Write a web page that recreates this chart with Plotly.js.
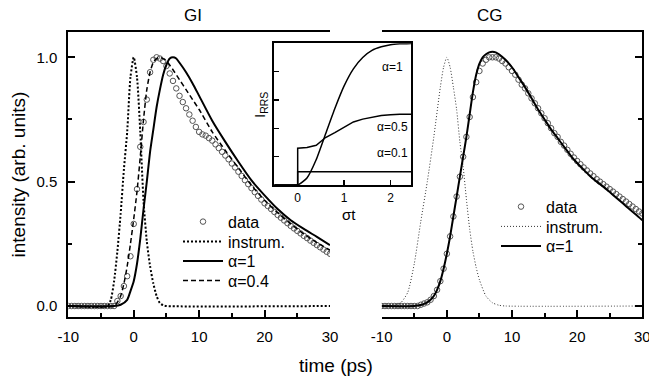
<!DOCTYPE html>
<html>
<head>
<meta charset="utf-8">
<script src="https://cdn.plot.ly/plotly-3.0.1.min.js"></script>
<style>html,body{margin:0;padding:0;background:#fff;}#chart{width:649px;height:379px;}</style>
</head>
<body>
<div id="chart"></div>
<script>
// ---------- GI panel (left) ----------
const tInstGI = [-10,-4,-3.5,-3,-2.5,-2,-1.5,-1,-0.5,0,0.5,1,1.5,2,2.5,3,3.5,4,4.5,5,30];
const instGI  = [0,0,0.025,0.1,0.22,0.37,0.55,0.7,0.92,1.0,0.92,0.7,0.42,0.26,0.16,0.09,0.04,0.012,0.003,0,0];

const tFitGI1 = [-10,-3,-2,-1,-0.5,0,0.5,1,1.5,2,2.5,3,3.5,4,4.5,5,5.5,6,6.5,7,8,9,10,12,14,16,18,20,22,24,26,28,30];
const fitGI1  = [0,0,0.005,0.025,0.06,0.1,0.17,0.27,0.39,0.5,0.62,0.71,0.8,0.87,0.93,0.97,0.995,1.0,0.995,0.978,0.94,0.895,0.845,0.745,0.66,0.58,0.505,0.445,0.39,0.345,0.31,0.278,0.245];

const tFitGI04 = [-10,-3,-2.5,-2,-1.5,-1,-0.5,0,0.5,1,1.5,2,2.5,3,3.5,4,5,6,7,8,9,10,12,14,16,18,20,22,24,26,28,30];
const fitGI04  = [0,0,0.015,0.04,0.09,0.16,0.25,0.35,0.46,0.6,0.75,0.87,0.94,0.98,0.995,1.0,0.985,0.95,0.91,0.87,0.83,0.79,0.70,0.625,0.555,0.485,0.425,0.375,0.33,0.29,0.255,0.225];

const tDataGI = [-10,-9.5,-9,-8.5,-8,-7.5,-7,-6.5,-6,-5.5,-5,-4.5,-4,-3.5,-3,-2.5,-2,-1.5,-1,-0.5,0,0.5,1,1.5,2,2.5,3,3.5,4,4.5,5,5.5,6,6.5,7,7.5,8,8.5,9,9.5,10,10.5,11,11.5,12,12.5,13,13.5,14,14.5,15,15.5,16,16.5,17,17.5,18,18.5,19,19.5,20,20.5,21,21.5,22,22.5,23,23.5,24,24.5,25,25.5,26,26.5,27,27.5,28,28.5,29,29.5,30];
const dataGI  = [0,0,0,0,0,0,0,0,0,0,0,0,0,0,0,0.02,0.04,0.08,0.12,0.2,0.33,0.47,0.64,0.74,0.83,0.94,0.99,1.0,0.995,0.985,0.965,0.935,0.905,0.875,0.845,0.82,0.795,0.77,0.745,0.72,0.70,0.69,0.685,0.675,0.665,0.65,0.635,0.62,0.605,0.59,0.573,0.557,0.54,0.523,0.506,0.49,0.474,0.458,0.443,0.428,0.413,0.402,0.39,0.378,0.366,0.355,0.344,0.333,0.322,0.312,0.302,0.292,0.282,0.273,0.263,0.254,0.245,0.236,0.227,0.218,0.21];

// ---------- CG panel (right) ----------
const tInstCG = [-10,-8,-7,-6,-5,-4,-3,-2,-1,-0.5,0,0.5,1,1.5,2,2.5,3,3.5,4,4.5,5,6,7,8,9,30];
const instCG  = [0,0.003,0.015,0.055,0.17,0.34,0.5,0.68,0.88,0.96,1.0,0.96,0.88,0.79,0.66,0.56,0.43,0.31,0.22,0.155,0.105,0.04,0.013,0.003,0,0];

const tFitCG1 = [-10,-5,-4,-3,-2.5,-2,-1.5,-1,-0.5,0,0.5,1,1.5,2,2.5,3,3.5,4,4.5,5,5.5,6,6.5,7,7.5,8,9,10,11,12,13,14,15,16,17,18,19,20,21,22,23,24,25,26,27,28,29,30];
const fitCG1  = [0,0,0.004,0.015,0.025,0.04,0.065,0.1,0.15,0.21,0.28,0.36,0.44,0.52,0.6,0.68,0.77,0.86,0.93,0.975,1.0,1.012,1.02,1.022,1.02,1.012,0.99,0.96,0.92,0.88,0.835,0.79,0.75,0.71,0.675,0.64,0.605,0.575,0.548,0.522,0.5,0.48,0.458,0.435,0.413,0.39,0.368,0.345];

const tDataCG = [-10,-9.5,-9,-8.5,-8,-7.5,-7,-6.5,-6,-5.5,-5,-4.5,-4,-3.5,-3,-2.5,-2,-1.5,-1,-0.5,0,0.5,1,1.5,2,2.5,3,3.5,4,4.5,5,5.5,6,6.5,7,7.5,8,8.5,9,9.5,10,10.5,11,11.5,12,12.5,13,13.5,14,14.5,15,15.5,16,16.5,17,17.5,18,18.5,19,19.5,20,20.5,21,21.5,22,22.5,23,23.5,24,24.5,25,25.5,26,26.5,27,27.5,28,28.5,29,29.5,30];
const dataCG  = [0,0,0,0,0,0,0,0,0,0,0,0,0.005,0.01,0.015,0.025,0.04,0.065,0.1,0.15,0.21,0.28,0.36,0.44,0.52,0.6,0.68,0.76,0.84,0.9,0.945,0.975,0.99,1.0,1.0,1.0,0.995,0.985,0.975,0.96,0.945,0.93,0.91,0.89,0.875,0.855,0.835,0.815,0.795,0.775,0.755,0.735,0.715,0.695,0.68,0.66,0.645,0.628,0.612,0.597,0.583,0.57,0.557,0.545,0.533,0.522,0.51,0.5,0.49,0.48,0.47,0.46,0.45,0.44,0.43,0.42,0.41,0.4,0.39,0.38,0.372];

// ---------- inset: I_RRS vs sigma t ----------
const sigA1  = [-0.5,0,0.2,0.4,0.6,0.8,1.0,1.2,1.4,1.6,1.8,2.0,2.2,2.45];
const rrsA1  = [0,0,0.05,0.18,0.36,0.54,0.70,0.82,0.90,0.95,0.975,0.99,0.996,0.999];
const sigA05 = [-0.5,0,0,0.2,0.4,0.6,0.8,1.0,1.2,1.4,1.6,1.8,2.0,2.2,2.45];
const rrsA05 = [0,0,0.26,0.265,0.28,0.335,0.37,0.41,0.445,0.465,0.48,0.49,0.495,0.5,0.5];
const sigA01 = [-0.5,0,0,2.45];
const rrsA01 = [0,0,0.094,0.094];

const xTickVals = [-10,0,10,20,30];
const xTickText = ['-10','0','10','20','30'];
const yTickVals = [0,0.5,1.0];
const yTickText = ['0.0','0.5','1.0'];
const insetXTicks = [0,1,2];

const FONT = 'Liberation Sans, Arial, Helvetica, sans-serif';
const circ = {symbol:'circle-open', size:5.5, color:'#555', line:{width:1, color:'#555'}};

const traces = [
  {x:tDataGI, y:dataGI, xaxis:'x', yaxis:'y', mode:'markers', name:'data', marker:circ, legend:'legend', showlegend:true},
  {x:tInstGI, y:instGI, xaxis:'x', yaxis:'y', mode:'lines', name:'instrum.', line:{color:'#000', width:2, dash:'2px,2px', shape:'spline', smoothing:0.6}, legend:'legend2'},
  {x:tFitGI1, y:fitGI1, xaxis:'x', yaxis:'y', mode:'lines', name:'α=1', line:{color:'#000', width:2, shape:'spline', smoothing:0.6}, legend:'legend3'},
  {x:tFitGI04, y:fitGI04, xaxis:'x', yaxis:'y', mode:'lines', name:'α=0.4', line:{color:'#000', width:1.5, dash:'5px,3px', shape:'spline', smoothing:0.6}, legend:'legend4'},

  {x:tDataCG, y:dataCG, xaxis:'x2', yaxis:'y2', mode:'markers', name:'data', marker:circ, legend:'legend5'},
  {x:tInstCG, y:instCG, xaxis:'x2', yaxis:'y2', mode:'lines', name:'instrum.', line:{color:'#333', width:1, dash:'1px,2px', shape:'spline', smoothing:0.6}, legend:'legend6'},
  {x:tFitCG1, y:fitCG1, xaxis:'x2', yaxis:'y2', mode:'lines', name:'α=1', line:{color:'#000', width:2, shape:'spline', smoothing:0.6}, legend:'legend7'},

  {x:sigA1, y:rrsA1, xaxis:'x3', yaxis:'y3', mode:'lines', name:'α=1 (inset)', line:{color:'#000', width:1.5, shape:'spline', smoothing:0.5}, showlegend:false},
  {x:sigA05, y:rrsA05, xaxis:'x3', yaxis:'y3', mode:'lines', name:'α=0.5 (inset)', line:{color:'#000', width:1.5}, showlegend:false},
  {x:sigA01, y:rrsA01, xaxis:'x3', yaxis:'y3', mode:'lines', name:'α=0.1 (inset)', line:{color:'#000', width:1.5}, showlegend:false}
];

const mainX = (domain) => ({
  domain: domain, range:[-10,30], showline:true, mirror:true, linecolor:'#000', linewidth:2,
  ticks:'inside', ticklen:7, tickwidth:2, tickcolor:'#000', tickvals:xTickVals, ticktext:xTickText,
  minor:{tickvals:[-5,5,15,25], ticks:'inside', ticklen:4, tickwidth:2, tickcolor:'#000'},
  ticklabelstandoff:5, ticklabeloverflow:'allow', showgrid:false, zeroline:false, fixedrange:true,
  tickfont:{family:FONT, size:15, color:'#000'}
});
const mainY = (anchor, side, labels) => {
  const ax = {
    domain:[0.16438,0.91478], range:[-0.043,1.1005], anchor:anchor, side:side,
    showline:true, mirror:false, linecolor:'#000', linewidth:2,
    ticks:'inside', ticklen:7, tickwidth:2, tickcolor:'#000', tickvals:yTickVals,
    showticklabels: labels,
    minor:{tickvals:[0.25,0.75], ticks:'inside', ticklen:4, tickwidth:2, tickcolor:'#000'},
    showgrid:false, zeroline:false, fixedrange:true,
    tickfont:{family:FONT, size:15, color:'#000'}
  };
  if (labels) { ax.ticktext = yTickText; ax.ticklabelstandoff = 6; }
  return ax;
};

const legendBase = (xp, yp) => ({
  x: xp/649, y: 1 - yp/379, xanchor:'left', yanchor:'middle', bgcolor:'rgba(0,0,0,0)',
  borderwidth:0, font:{family:FONT, size:16, color:'#000'}, itemwidth:40, itemclick:false, itemdoubleclick:false
});

const ann = (text, x, y, size, extra) => Object.assign({
  text:text, xref:'paper', yref:'paper', x:x, y:y, xanchor:'center', yanchor:'middle',
  showarrow:false, font:{family:FONT, size:size, color:'#000'}
}, extra || {});

const layout = {
  width:649, height:379, margin:{l:0,r:0,t:0,b:0},
  paper_bgcolor:'#fff', plot_bgcolor:'rgba(0,0,0,0)',
  font:{family:FONT, color:'#000'},
  xaxis: Object.assign(mainX([0.10524,0.50847]), {anchor:'y'}),
  yaxis: mainY('x','left',true),
  xaxis2: Object.assign(mainX([0.58814,0.98968]), {anchor:'y2'}),
  yaxis2: mainY('x2','right',false),
  xaxis3: {domain:[0.42219,0.63328], range:[-0.51,2.44], anchor:'y3', showline:true, mirror:true, linecolor:'#000', linewidth:2,
           ticks:'inside', ticklen:5, tickwidth:1.5, tickcolor:'#000', tickvals:insetXTicks, ticktext:['0','1','2'],
           ticklabelstandoff:1, showgrid:false, zeroline:false, fixedrange:true, tickfont:{family:FONT, size:12, color:'#000'}},
  yaxis3: {domain:[0.51187,0.88575], range:[0,1.0], anchor:'x3', showline:true, mirror:true, linecolor:'#000', linewidth:2,
           ticks:'inside', ticklen:5, tickwidth:1.5, tickcolor:'#000', tickvals:[0.2,0.4,0.6,0.8], showticklabels:false,
           showgrid:false, zeroline:false, fixedrange:true},
  legend:  legendBase(178, 221.7),
  legend2: legendBase(178, 241.5),
  legend3: legendBase(178, 261),
  legend4: legendBase(178, 280.5),
  legend5: legendBase(496, 206.7),
  legend6: legendBase(496, 226.5),
  legend7: legendBase(496, 246),
  annotations: [
    ann('GI', 193/649, 1-15/379, 17),
    ann('CG', 490/649, 1-15/379, 17),
    ann('intensity (arb. units)', 18.5/649, 1-175/379, 19, {textangle:-90}),
    ann('time (ps)', 336/649, 1-365/379, 19),
    ann('σt', 349/649, 1-214.5/379, 15),
    ann('I<sub>RRS</sub>', 260/649, 1-105/379, 15, {textangle:-90}),
    {text:'α=1', xref:'x3', yref:'y3', x:2.04, y:0.833, xanchor:'center', yanchor:'middle', showarrow:false, font:{family:FONT, size:12, color:'#000'}},
    {text:'α=0.5', xref:'x3', yref:'y3', x:2.04, y:0.41, xanchor:'center', yanchor:'middle', showarrow:false, font:{family:FONT, size:12, color:'#000'}},
    {text:'α=0.1', xref:'x3', yref:'y3', x:2.04, y:0.224, xanchor:'center', yanchor:'middle', showarrow:false, font:{family:FONT, size:12, color:'#000'}}
  ]
};

Plotly.newPlot('chart', traces, layout, {displayModeBar:false, staticPlot:true});
</script>
</body>
</html>
